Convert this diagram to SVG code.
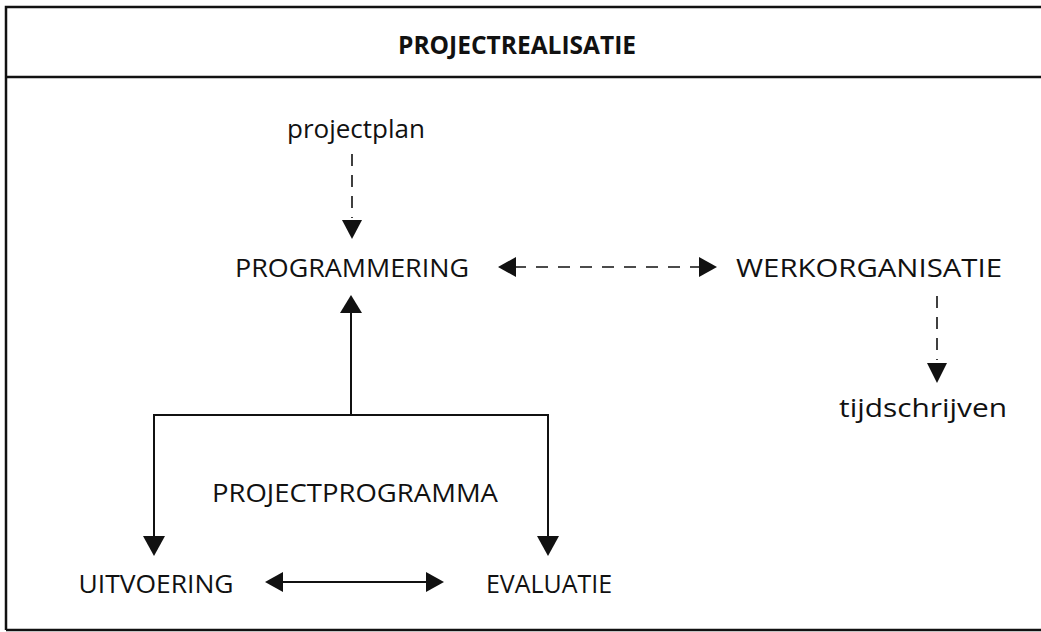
<svg xmlns="http://www.w3.org/2000/svg" width="1041" height="632" viewBox="0 0 1041 632">
  <style>
    .frame { stroke: #111; stroke-width: 2.5; fill: none; }
    .lbl { font-family: "Open Sans", "Noto Sans", sans-serif; font-size: 26px; fill: #111; }
    .low { font-family: "Open Sans", "Noto Sans", sans-serif; font-size: 26px; fill: #111; }
    .title { font-family: "Open Sans", "Noto Sans", sans-serif; font-size: 24.5px; font-weight: bold; fill: #111; }
    .solid { stroke: #111; stroke-width: 2; fill: none; }
    .dash { stroke: #111; stroke-width: 1.6; fill: none; stroke-dasharray: 12 10; }
    .vdash { stroke: #111; stroke-width: 1.6; fill: none; stroke-dasharray: 12 9; }
    .head { fill: #111; }
  </style>

  <rect width="1041" height="632" fill="#fff"/>

  <!-- outer frame and header divider -->
  <g id="frame">
    <path class="frame" d="M6,630 V7 H1041"/>
    <path class="frame" d="M6,77 H1041"/>
    <path class="frame" d="M6,630 H1041"/>
  </g>

  <g id="title">
    <text class="title" x="517" y="54" text-anchor="middle" textLength="238" lengthAdjust="spacingAndGlyphs">PROJECTREALISATIE</text>
  </g>

  <g id="node-projectplan">
    <text class="low" x="356" y="138" text-anchor="middle" textLength="138" lengthAdjust="spacingAndGlyphs">projectplan</text>
  </g>
  <g id="node-programmering">
    <text class="lbl" x="352" y="277" text-anchor="middle" textLength="234" lengthAdjust="spacingAndGlyphs">PROGRAMMERING</text>
  </g>
  <g id="node-werkorganisatie">
    <text class="lbl" x="869" y="277" text-anchor="middle" textLength="266" lengthAdjust="spacingAndGlyphs">WERKORGANISATIE</text>
  </g>
  <g id="node-tijdschrijven">
    <text class="low" x="923" y="417" text-anchor="middle" textLength="168" lengthAdjust="spacingAndGlyphs">tijdschrijven</text>
  </g>
  <g id="node-projectprogramma">
    <text class="lbl" x="355" y="502" text-anchor="middle" textLength="286" lengthAdjust="spacingAndGlyphs">PROJECTPROGRAMMA</text>
  </g>
  <g id="node-uitvoering">
    <text class="lbl" x="156" y="593" text-anchor="middle" textLength="155" lengthAdjust="spacingAndGlyphs">UITVOERING</text>
  </g>
  <g id="node-evaluatie">
    <text class="lbl" x="549" y="593" text-anchor="middle" textLength="126" lengthAdjust="spacingAndGlyphs">EVALUATIE</text>
  </g>

  <g id="connectors">
    <!-- projectplan -> PROGRAMMERING -->
    <path class="vdash" d="M352,154 V218"/>
    <polygon class="head" points="342,220 362,220 352,239"/>

    <!-- PROGRAMMERING <-> WERKORGANISATIE -->
    <path class="dash" d="M514,267 H702"/>
    <polygon class="head" points="498,267 516,257 516,277"/>
    <polygon class="head" points="717,267 699,257 699,277"/>

    <!-- WERKORGANISATIE -> tijdschrijven -->
    <path class="vdash" d="M937,296 V360"/>
    <polygon class="head" points="927,363 947,363 937,383"/>

    <!-- PROJECTPROGRAMMA feedback to PROGRAMMERING -->
    <path class="solid" d="M351,415 V310"/>
    <polygon class="head" points="340,313 362,313 351,295"/>

    <!-- branch to UITVOERING and EVALUATIE -->
    <path class="solid" d="M154,537 V415 H548 V537"/>
    <polygon class="head" points="143,536 165,536 154,556"/>
    <polygon class="head" points="537,536 559,536 548,556"/>

    <!-- UITVOERING <-> EVALUATIE -->
    <path class="solid" d="M280,582 H428"/>
    <polygon class="head" points="265,582 283,572 283,592"/>
    <polygon class="head" points="444,582 426,572 426,592"/>
  </g>
</svg>
